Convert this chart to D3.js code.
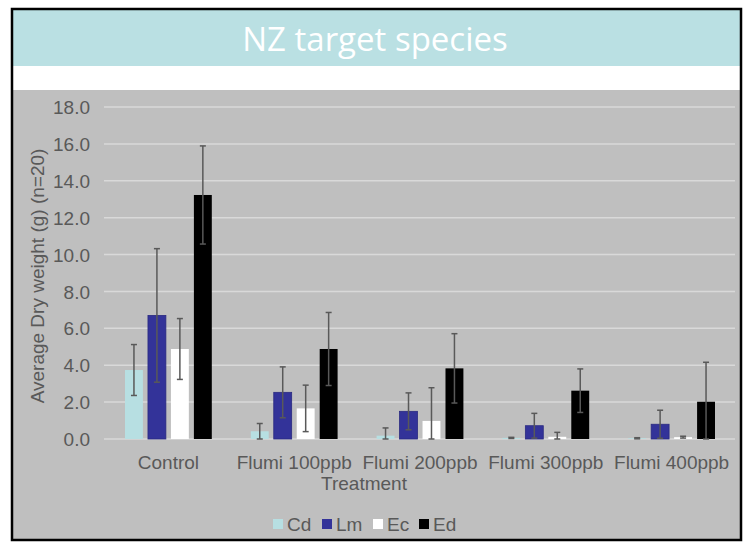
<!DOCTYPE html>
<html><head><meta charset="utf-8">
<script src="https://cdn.jsdelivr.net/npm/d3@7"></script>
<style>html,body{margin:0;padding:0;background:#fff;}svg{display:block;}</style>
</head><body>
<svg id="chart" width="749" height="545"></svg>
<script>
const title = "NZ target species";
const categories = ["Control", "Flumi 100ppb", "Flumi 200ppb", "Flumi 300ppb", "Flumi 400ppb"];
const seriesNames = ["Cd", "Lm", "Ec", "Ed"];
const seriesColors = ["#b7dfe2", "#333399", "#ffffff", "#000000"];
const cdValues = [3.74, 0.42, 0.18, 0.06, 0.04];
const lmValues = [6.70, 2.53, 1.50, 0.72, 0.80];
const ecValues = [4.88, 1.66, 0.98, 0.12, 0.10];
const edValues = [13.23, 4.88, 3.83, 2.62, 2.02];
const cdErr = [1.38, 0.42, 0.42, 0.03, 0.03];
const lmErr = [3.62, 1.38, 1.00, 0.67, 0.76];
const ecErr = [1.65, 1.26, 1.80, 0.24, 0.05];
const edErr = [2.66, 1.98, 1.88, 1.18, 2.14];
const yTicks = [0, 2, 4, 6, 8, 10, 12, 14, 16, 18];
const yLabel = "Average Dry weight (g) (n=20)";
const xLabel = "Treatment";

const values = [cdValues, lmValues, ecValues, edValues];
const errs = [cdErr, lmErr, ecErr, edErr];

const svg = d3.select("#chart");
const font = "'Liberation Sans', Arial, sans-serif";
const textColor = "#595959";

// frame backgrounds
svg.append("rect").attr("x", 12).attr("y", 9).attr("width", 729).attr("height", 531).attr("fill", "#bfbfbf");
svg.append("rect").attr("x", 12).attr("y", 9).attr("width", 729).attr("height", 57).attr("fill", "#bae0e3");
svg.append("rect").attr("x", 12).attr("y", 66).attr("width", 729).attr("height", 24).attr("fill", "#ffffff");
svg.append("rect").attr("x", 12).attr("y", 9).attr("width", 729).attr("height", 531)
  .attr("fill", "none").attr("stroke", "#000").attr("stroke-width", 2.5);

svg.append("text").attr("x", 375).attr("y", 51).attr("text-anchor", "middle")
  .attr("font-family", "'Open Sans', sans-serif").attr("font-size", 33).attr("fill", "#fff")
  .text(title);

const x0 = d3.scaleBand().domain(categories).range([105.5, 734.5]).paddingInner(0.31).paddingOuter(0.155);
const x1 = d3.scaleBand().domain(seriesNames).range([0, x0.bandwidth()]).paddingInner(0.22).paddingOuter(0);
const y = d3.scaleLinear().domain([0, 18]).range([439, 107]);

// gridlines
svg.append("g").selectAll("line").data(yTicks).join("line")
  .attr("x1", 104).attr("x2", 735)
  .attr("y1", d => y(d)).attr("y2", d => y(d))
  .attr("stroke", "#d9d9d9").attr("stroke-width", 1.5);

// y axis
const yAxis = d3.axisLeft(y).tickValues(yTicks).tickFormat(d3.format(".1f")).tickSize(0).tickPadding(0);
const yg = svg.append("g").attr("transform", "translate(90,0)").call(yAxis);
yg.select(".domain").remove();
yg.selectAll("text").attr("font-family", font).attr("font-size", 19).attr("fill", textColor).attr("dy", "0.35em");

// bars
const groups = svg.append("g").selectAll("g").data(categories).join("g")
  .attr("transform", d => `translate(${x0(d)},0)`);
groups.each(function(cat, ci) {
  const g = d3.select(this);
  seriesNames.forEach((s, si) => {
    const v = values[si][ci];
    g.append("rect")
      .attr("x", x1(s)).attr("width", x1.bandwidth())
      .attr("y", y(v)).attr("height", y(0) - y(v))
      .attr("fill", seriesColors[si])
      .attr("stroke", si === 1 ? "#2a2a80" : "none").attr("stroke-width", 0.8);
  });
  seriesNames.forEach((s, si) => {
    const v = values[si][ci], e = errs[si][ci];
    const cx = x1(s) + x1.bandwidth() / 2;
    const lo = Math.max(0, v - e), hi = v + e;
    g.append("line").attr("x1", cx).attr("x2", cx).attr("y1", y(hi)).attr("y2", y(lo))
      .attr("stroke", "#595959").attr("stroke-width", 1.5);
    [hi, lo].forEach(val => {
      g.append("line").attr("x1", cx - 3).attr("x2", cx + 3).attr("y1", y(val)).attr("y2", y(val))
        .attr("stroke", "#595959").attr("stroke-width", 1.5);
    });
  });
});

// x axis labels
const xAxis = d3.axisBottom(x0).tickSize(0).tickPadding(0);
const xg = svg.append("g").attr("transform", "translate(0,456)").call(xAxis);
xg.select(".domain").remove();
xg.selectAll("text").attr("font-family", font).attr("font-size", 19).attr("fill", textColor).attr("dy", "0.7em");

svg.append("text").attr("x", 364).attr("y", 490).attr("text-anchor", "middle")
  .attr("font-family", font).attr("font-size", 19).attr("fill", textColor).text(xLabel);

svg.append("text").attr("transform", "translate(44,276) rotate(-90)").attr("text-anchor", "middle")
  .attr("font-family", font).attr("font-size", 19).attr("fill", textColor).text(yLabel);

// legend
const legendX = [273, 322, 373, 419];
const lg = svg.append("g").selectAll("g").data(seriesNames).join("g")
  .attr("transform", (d, i) => `translate(${legendX[i]},524)`);
lg.append("rect").attr("x", 0).attr("y", -5).attr("width", 10).attr("height", 10)
  .attr("fill", (d, i) => seriesColors[i]);
lg.append("text").attr("x", 14).attr("y", 0).attr("dy", "0.36em")
  .attr("font-family", font).attr("font-size", 19).attr("fill", textColor).text(d => d);
</script>
</body></html>
